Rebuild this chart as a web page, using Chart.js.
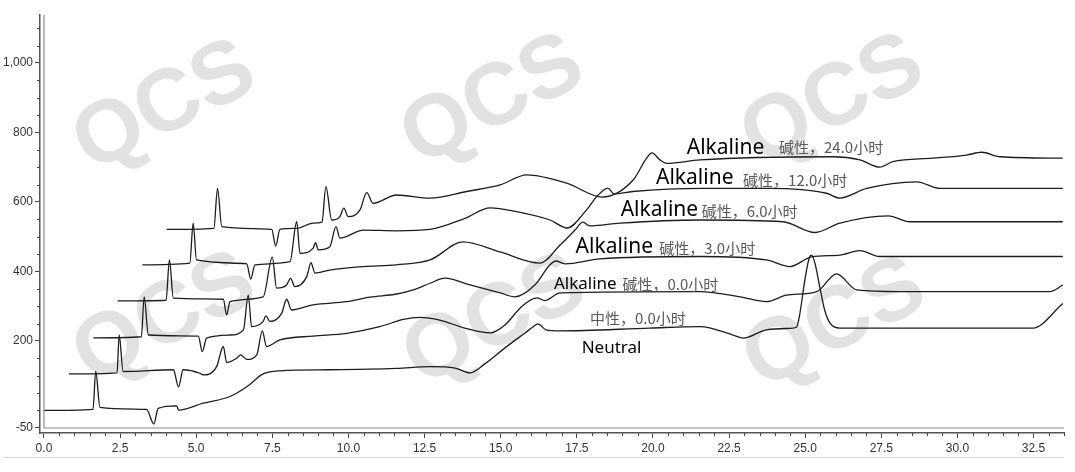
<!DOCTYPE html>
<html>
<head>
<meta charset="utf-8">
<script src="https://cdn.jsdelivr.net/npm/chart.js@4.4.1/dist/chart.umd.min.js"></script>
<style>
  html, body { margin: 0; padding: 0; background: #fff; }
</style>
</head>
<body>
<canvas id="chromato" width="1075" height="472"></canvas>
<script>
// retention time (min) / response pairs for each run
const neutralT = [0, 1.61, 1.70, 1.84, 3.37, 3.61, 3.75, 4.36, 4.42, 5.23, 6.11, 6.66, 7.20, 7.75, 9.39, 11.58, 12.68, 13.50, 13.99, 14.48, 15.14, 15.80, 16.06, 16.22, 16.49, 16.95, 19.90, 21.54, 22.63, 22.96, 23.73, 24.50, 24.72, 24.83, 24.99, 25.15, 25.21, 25.32, 25.48, 25.64, 25.81, 26.14, 32.48, 33.46];
const neutralV = [0, 3, 112, 9, 3, -39, 6, 13, 1, 21, 40, 68, 105, 114, 117, 121, 126, 122, 108, 134, 180, 223, 240, 249, 232, 229, 237, 241, 217, 208, 232, 236, 240, 281, 376, 443, 447, 424, 355, 289, 252, 237, 237, 308];

const alk0T = [0.82, 2.40, 2.47, 2.60, 4.25, 4.42, 4.57, 5.12, 5.23, 5.67, 5.89, 6.00, 6.33, 6.46, 6.66, 6.99, 7.17, 7.31, 7.75, 8.84, 9.94, 11.03, 11.80, 12.35, 13.00, 13.82, 14.65, 15.14, 15.70, 16.19, 16.45, 16.95, 21.54, 22.86, 23.73, 24.39, 25.38, 26.03, 26.69, 28.11, 33.04, 33.46];
const alk0V = [105, 108, 217, 112, 117, 68, 117, 107, 102, 126, 184, 138, 150, 160, 147, 160, 229, 184, 203, 214, 222, 241, 262, 268, 260, 237, 223, 246, 300, 324, 316, 338, 342, 327, 313, 332, 342, 393, 347, 342, 342, 361];

const alk3T = [1.62, 3.20, 3.29, 3.43, 5.07, 5.20, 5.34, 6.11, 6.55, 6.71, 6.82, 7.20, 7.29, 7.42, 7.81, 7.97, 8.13, 8.84, 9.94, 10.71, 11.58, 12.13, 12.68, 13.17, 13.99, 14.98, 15.47, 16.12, 16.62, 16.81, 17.11, 18.26, 21.54, 23.73, 24.50, 25.21, 26.14, 26.80, 27.45, 33.46];
const alk3V = [209, 212, 327, 217, 214, 169, 208, 217, 232, 332, 241, 256, 272, 256, 280, 320, 289, 304, 313, 326, 335, 347, 366, 381, 361, 338, 327, 361, 419, 430, 422, 436, 443, 433, 414, 442, 447, 460, 443, 443];

const alk6T = [2.42, 4.01, 4.12, 4.25, 5.89, 6.00, 6.11, 7.20, 7.50, 7.64, 7.97, 8.10, 8.24, 8.63, 8.77, 8.90, 9.39, 10.49, 11.58, 12.68, 13.76, 14.98, 16.29, 16.95, 17.44, 17.70, 17.92, 18.92, 21.54, 24.27, 25.32, 26.14, 27.73, 28.44, 33.46];
const alk6V = [315, 317, 433, 323, 320, 275, 313, 327, 441, 352, 361, 380, 356, 385, 425, 395, 404, 414, 419, 433, 485, 456, 424, 476, 519, 542, 531, 539, 548, 543, 512, 539, 560, 543, 543];

const alk12T = [3.23, 4.79, 4.90, 5.01, 6.66, 6.79, 6.93, 8.08, 8.30, 8.41, 8.84, 8.92, 9.01, 9.39, 9.59, 9.72, 10.49, 11.58, 12.68, 13.83, 14.65, 15.52, 16.62, 17.18, 17.82, 18.15, 18.52, 18.72, 19.34, 21.63, 23.83, 25.70, 26.14, 27.02, 28.66, 29.43, 33.46];
const alk12V = [419, 424, 539, 433, 422, 378, 419, 428, 543, 452, 467, 483, 462, 471, 529, 496, 519, 517, 521, 553, 583, 572, 548, 525, 577, 615, 640, 623, 630, 639, 639, 625, 611, 639, 658, 639, 639];

const alk24T = [4.03, 5.58, 5.70, 5.84, 7.48, 7.61, 7.75, 8.30, 8.84, 9.13, 9.26, 9.45, 9.72, 9.85, 9.99, 10.38, 10.60, 10.81, 11.58, 12.68, 13.88, 14.98, 15.86, 17.17, 18.33, 19.35, 19.79, 19.97, 20.23, 20.46, 21.54, 25.91, 26.80, 27.45, 27.88, 29.19, 30.30, 30.80, 31.40, 33.46];
const alk24V = [521, 524, 639, 529, 521, 473, 521, 524, 539, 542, 644, 548, 558, 582, 558, 577, 627, 596, 620, 611, 630, 649, 678, 654, 614, 663, 726, 741, 721, 711, 721, 730, 721, 700, 716, 726, 735, 743, 730, 726];

const runNames = ['Neutral', 'Alkaline 0.0h', 'Alkaline 3.0h', 'Alkaline 6.0h', 'Alkaline 12.0h', 'Alkaline 24.0h'];
const runT = [neutralT, alk0T, alk3T, alk6T, alk12T, alk24T];
const runV = [neutralV, alk0V, alk3V, alk6V, alk12V, alk24V];

const xTicks = [0, 2.5, 5, 7.5, 10, 12.5, 15, 17.5, 20, 22.5, 25, 27.5, 30, 32.5];
const yTicks = [-50, 200, 400, 600, 800, 1000];

// run labels written next to each trace (text, retention time, response)
const noteText = ['Alkaline', '碱性，24.0小时', 'Alkaline', '碱性，12.0小时', 'Alkaline', '碱性，6.0小时',
                  'Alkaline', '碱性，3.0小时', 'Alkaline', '碱性，0.0小时', '中性，0.0小时', 'Neutral'];
const noteX = [21.11, 24.14, 20.10, 22.96, 18.94, 21.60, 17.46, 20.21, 16.75, 19.00, 17.93, 17.66];
const noteY = [754, 758, 668, 663, 577, 572, 471, 467, 364, 363, 265, 179];
const noteFont = ['21px "Noto Sans"', '15px "Noto Sans CJK SC"', '21px "Noto Sans"', '15px "Noto Sans CJK SC"',
                  '21px "Noto Sans"', '15px "Noto Sans CJK SC"', '21px "Noto Sans"', '15px "Noto Sans CJK SC"',
                  '17px "Noto Sans"', '15px "Noto Sans CJK SC"', '15px "Noto Sans CJK SC"', '17px "Noto Sans"'];

const axisFont = { family: '"Liberation Sans Narrow", "Liberation Sans", Arial', size: 12 };

// big grey "QCS" stamps behind the traces
const stampPlugin = {
  id: 'stamps',
  beforeDatasetsDraw(chart) {
    const c = chart.ctx;
    const spots = [[165, 108], [493, 102], [833, 102], [1165, 100], [165, 320], [495, 322], [835, 325], [1165, 325]];
    c.save();
    c.font = 'bold 88px "Liberation Sans", Arial';
    c.fillStyle = '#e2e2e2';
    c.textAlign = 'center';
    c.textBaseline = 'middle';
    spots.forEach(([px, py]) => {
      c.save();
      c.translate(px, py);
      c.rotate(-27 * Math.PI / 180);
      c.fillText('QCS', 0, 0);
      c.restore();
    });
    c.restore();
  }
};

// minor ticks, the second axis rule and the labels on the traces
const decoPlugin = {
  id: 'deco',
  afterDraw(chart) {
    const c = chart.ctx, a = chart.chartArea;
    const xs = chart.scales.x, ys = chart.scales.y;
    c.save();
    c.strokeStyle = '#444';
    c.lineWidth = 1;
    for (let v = -50; v <= 1100; v += 50) {
      if (yTicks.includes(v)) continue;
      const p = Math.round(ys.getPixelForValue(v)) + 0.5;
      c.beginPath(); c.moveTo(a.left, p); c.lineTo(a.left - 3, p); c.stroke();
    }
    for (let v = 0; v <= 33.5; v += 0.5) {
      if (xTicks.includes(v)) continue;
      const p = Math.round(xs.getPixelForValue(v)) + 0.5;
      c.beginPath(); c.moveTo(p, a.bottom); c.lineTo(p, a.bottom + 3); c.stroke();
    }
    c.strokeStyle = '#8a8a8a';
    c.lineWidth = 1.2;
    c.beginPath();
    c.moveTo(a.left + 4, a.top); c.lineTo(a.left + 4, a.bottom - 5); c.lineTo(a.right, a.bottom - 5);
    c.stroke();
    c.strokeStyle = '#d6d6d6';
    c.lineWidth = 1;
    c.beginPath(); c.moveTo(3, a.bottom + 24.5); c.lineTo(a.right, a.bottom + 24.5); c.stroke();

    c.textBaseline = 'middle';
    c.textAlign = 'left';
    noteText.forEach((t, i) => {
      c.font = noteFont[i];
      c.fillStyle = t === 'Alkaline' || t === 'Neutral' ? '#000' : '#5a5a5a';
      c.fillText(t, xs.getPixelForValue(noteX[i]), ys.getPixelForValue(noteY[i]));
    });
    c.restore();
  }
};

const data = {
  datasets: runNames.map((name, k) => ({
    label: name,
    data: runT[k].map((t, i) => ({ x: t, y: runV[k][i] })),
    borderColor: '#1d1d1d',
    borderWidth: 1.3,
    pointRadius: 0,
    cubicInterpolationMode: 'monotone',
    fill: false
  }))
};

const config = {
  type: 'line',
  data: data,
  options: {
    responsive: false,
    animation: false,
    layout: { padding: { top: 15, right: 11, left: 0, bottom: 0 } },
    plugins: { legend: { display: false }, tooltip: { enabled: false } },
    scales: {
      x: {
        type: 'linear',
        min: -0.13,
        max: 33.5,
        afterBuildTicks: s => { s.ticks = xTicks.map(v => ({ value: v })); },
        afterFit: s => { s.height = 39; },
        ticks: { callback: v => Number(v).toFixed(1), color: '#333', font: axisFont, padding: 3, maxRotation: 0, autoSkip: false },
        grid: { drawOnChartArea: false, tickLength: 5, tickColor: '#444' },
        border: { color: '#555', width: 1.5 }
      },
      y: {
        min: -65,
        max: 1138,
        afterBuildTicks: s => { s.ticks = yTicks.map(v => ({ value: v })); },
        afterFit: s => { s.width = 40; },
        ticks: { color: '#333', font: axisFont, padding: 2, autoSkip: false },
        grid: { drawOnChartArea: false, tickLength: 5, tickColor: '#444' },
        border: { color: '#555', width: 1.5 }
      }
    }
  },
  plugins: [stampPlugin, decoPlugin]
};

const myChart = new Chart(document.getElementById('chromato'), config);
</script>
</body>
</html>
